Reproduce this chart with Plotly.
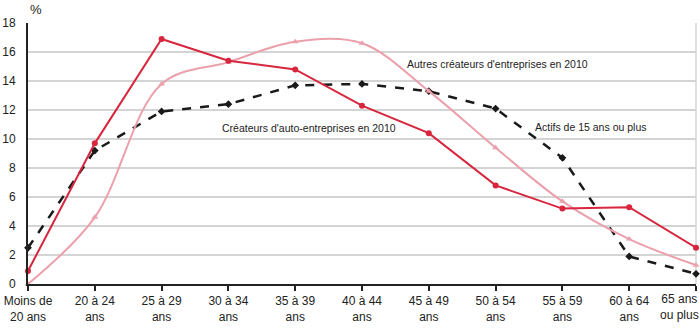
import plotly.graph_objects as go

categories = ["Moins de<br>20 ans", "20 à 24<br>ans", "25 à 29<br>ans", "30 à 34<br>ans", "35 à 39<br>ans",
              "40 à 44<br>ans", "45 à 49<br>ans", "50 à 54<br>ans", "55 à 59<br>ans", "60 à 64<br>ans",
              "65 ans<br>ou plus"]
auto_entrepreneurs = [0.9, 9.7, 16.9, 15.4, 14.8, 12.3, 10.4, 6.8, 5.2, 5.3, 2.5]
autres_createurs = [0.0, 4.6, 13.8, 15.3, 16.7, 16.6, 13.3, 9.4, 5.7, 3.1, 1.3]
actifs = [2.5, 9.2, 11.9, 12.4, 13.7, 13.8, 13.3, 12.1, 8.7, 1.9, 0.7]
y_ticks = [0, 2, 4, 6, 8, 10, 12, 14, 16, 18]

FONT = "Liberation Sans Narrow, Arial Narrow, Liberation Sans, Arial, sans-serif"
x = list(range(len(categories)))
# last label is drawn as an annotation pulled inside the right edge, like the reference
tick_text = categories[:-1] + [""]

fig = go.Figure()
fig.add_trace(go.Scatter(x=x, y=actifs, mode="lines+markers",
                         line=dict(color="#1a1a1a", width=2.5, dash="dash"),
                         marker=dict(symbol="diamond", size=6, color="#1a1a1a"),
                         cliponaxis=False))
fig.add_trace(go.Scatter(x=x, y=autres_createurs, mode="lines+markers",
                         line=dict(color="#eba0ac", width=2, shape="spline", smoothing=1),
                         marker=dict(symbol="triangle-up", size=6, color="#eba0ac"),
                         cliponaxis=False))
fig.add_trace(go.Scatter(x=x, y=auto_entrepreneurs, mode="lines+markers",
                         line=dict(color="#d7263d", width=2),
                         marker=dict(symbol="circle", size=6, color="#d7263d"),
                         cliponaxis=False))

ann_font = dict(family=FONT, size=10.5, color="#222222")
tick_font = dict(family=FONT, size=12, color="#222222")
fig.update_layout(
    width=700, height=330,
    margin=dict(l=28, r=4, t=23, b=46, autoexpand=False),
    paper_bgcolor="white", plot_bgcolor="white",
    showlegend=False,
    font=dict(family=FONT, size=12, color="#222222"),
    xaxis=dict(range=[0, 10], tickmode="array", tickvals=x, ticktext=tick_text,
               showgrid=False, zeroline=False, showline=True, linecolor="#222222", linewidth=2,
               ticks="outside", ticklen=5, tickwidth=2, tickcolor="#222222",
               ticklabeloverflow="allow", automargin=False,
               tickfont=tick_font),
    yaxis=dict(range=[0, 18], tickmode="array", tickvals=y_ticks,
               showgrid=True, gridcolor="#d4d4d4", gridwidth=1.5, zeroline=False,
               showline=True, linecolor="#222222", linewidth=2, ticks="",
               ticklabelstandoff=8, automargin=False,
               tickfont=tick_font),
    annotations=[
        dict(x=5.64, y=15.17, xref="x", yref="y", text="Autres créateurs d'entreprises en 2010",
             showarrow=False, xanchor="left", yanchor="middle", font=ann_font),
        dict(x=2.87, y=10.76, xref="x", yref="y", text="Créateurs d'auto-entreprises en 2010",
             showarrow=False, xanchor="left", yanchor="middle", font=ann_font),
        dict(x=7.56, y=10.83, xref="x", yref="y", text="Actifs de 15 ans ou plus",
             showarrow=False, xanchor="left", yanchor="middle", font=ann_font),
        dict(x=0, y=1 + 23 / 261, xref="paper", yref="paper", text="%",
             showarrow=False, xanchor="left", yanchor="top",
             font=dict(family=FONT, size=13, color="#222222")),
        dict(x=1, y=0, xref="paper", yref="paper", text=categories[-1],
             showarrow=False, xanchor="right", yanchor="top", align="center",
             xshift=5, yshift=-6, font=tick_font),
    ],
)
fig.add_shape(type="line", xref="paper", yref="paper", x0=1, x1=1, y0=0, y1=1,
              line=dict(color="#d4d4d4", width=1.5), layer="below")

fig.write_html("out.html")
